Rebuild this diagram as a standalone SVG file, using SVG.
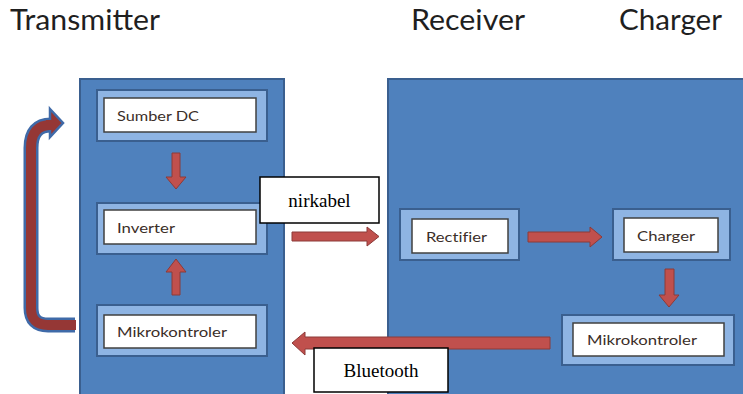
<svg xmlns="http://www.w3.org/2000/svg" width="743" height="394" viewBox="0 0 743 394">
<defs>
<style>
.title{font-family:Lato,"Open Sans","Liberation Sans",sans-serif;font-size:28px;fill:#1F1F1F}
.big{fill:#4F81BD;stroke:#3A5F8F;stroke-width:2}
.outer{fill:#8EB4E3;stroke:#3A5F8F;stroke-width:2}
.inner{fill:#fff;stroke:#404040;stroke-width:1.5}
.lbl{font-family:Lato,"Open Sans","Liberation Sans",sans-serif;font-size:14px;fill:#3B2E28;font-variant-ligatures:none}
.arr{fill:#C0504D;stroke:#8C3A38;stroke-width:1}
.tag{fill:#fff;stroke:#000;stroke-width:1.5}
.tagt{font-family:"Liberation Serif","Times New Roman",serif;font-size:19px;fill:#000;text-anchor:middle}
</style>
</defs>
<rect width="743" height="394" fill="#fff"/>
<text class="title" x="10" y="30" textLength="150" lengthAdjust="spacingAndGlyphs">Transmitter</text>
<text class="title" x="411" y="30" textLength="114" lengthAdjust="spacingAndGlyphs">Receiver</text>
<text class="title" x="619" y="30" textLength="103" lengthAdjust="spacingAndGlyphs">Charger</text>

<g id="transmitter">
<rect class="big" x="80" y="79" width="204" height="330"/>
</g>
<g id="receiver">
<rect class="big" x="388" y="79" width="360" height="330"/>
</g>

<g id="sumberdc">
<rect class="outer" x="97" y="90" width="170" height="51"/>
<rect class="inner" x="104" y="98" width="152" height="34"/>
<text class="lbl" x="117" y="121" textLength="82" lengthAdjust="spacingAndGlyphs">Sumber DC</text>
</g>
<g id="inverter">
<rect class="outer" x="97" y="203" width="170" height="51"/>
<rect class="inner" x="104" y="210" width="152" height="34"/>
<text class="lbl" x="117" y="233" textLength="58" lengthAdjust="spacingAndGlyphs">Inverter</text>
</g>
<g id="mikro-tx">
<rect class="outer" x="97" y="305" width="170" height="51"/>
<rect class="inner" x="104" y="315" width="152" height="33"/>
<text class="lbl" x="117" y="337" textLength="110" lengthAdjust="spacingAndGlyphs">Mikrokontroler</text>
</g>
<g id="rectifier">
<rect class="outer" x="400" y="209" width="119" height="51"/>
<rect class="inner" x="412" y="219" width="96" height="34"/>
<text class="lbl" x="426" y="242" textLength="61" lengthAdjust="spacingAndGlyphs">Rectifier</text>
</g>
<g id="charger">
<rect class="outer" x="613" y="209" width="117" height="51"/>
<rect class="inner" x="624" y="218" width="94" height="34"/>
<text class="lbl" x="637" y="241" textLength="58" lengthAdjust="spacingAndGlyphs">Charger</text>
</g>
<g id="mikro-rx">
<rect class="outer" x="562" y="315" width="172" height="50"/>
<rect class="inner" x="573" y="323" width="151" height="33"/>
<text class="lbl" x="587" y="345" textLength="110" lengthAdjust="spacingAndGlyphs">Mikrokontroler</text>
</g>

<g id="connectors">
<!-- Sumber DC -> Inverter -->
<polygon class="arr" points="172,153 180,153 180,177 186,177 176,189 166,177 172,177"/>
<!-- Mikrokontroler -> Inverter -->
<polygon class="arr" points="172,295 180,295 180,272 186,272 176,259 166,272 172,272"/>
<!-- loop arrow -->
<path d="M75,325 H48 Q31,325 31,308 V148 Q31,125 51,125 H52" fill="none" stroke="#3F6AA8" stroke-width="15"/>
<path d="M76,325 H48 Q31,325 31,308 V148 Q31,125 51,125 H53" fill="none" stroke="#953735" stroke-width="10"/>
<polygon points="50,109 63,123 50,137" fill="#953735" stroke="#3F6AA8" stroke-width="2.5" stroke-linejoin="miter"/>
<rect x="46" y="120" width="6" height="10" fill="#953735"/>
<!-- nirkabel arrow -->
<polygon class="arr" points="292,232 367,232 367,227 379,236.5 367,246 367,241 292,241"/>
<!-- Rectifier -> Charger -->
<polygon class="arr" points="528,232 590,232 590,227 602,237 590,247 590,242 528,242"/>
<!-- Charger -> Mikrokontroler -->
<polygon class="arr" points="665,269 674,269 674,295 679,295 669,307 659,295 665,295"/>
<!-- Bluetooth arrow -->
<polygon class="arr" points="550,337 305,337 305,332 292,343 305,355 305,349 550,349"/>
</g>

<g id="label-nirkabel">
<rect class="tag" x="260" y="177" width="119" height="46"/>
<text class="tagt" x="319.5" y="207">nirkabel</text>
</g>
<g id="label-bluetooth">
<rect class="tag" x="314" y="348" width="134" height="44"/>
<text class="tagt" x="381" y="377">Bluetooth</text>
</g>
</svg>
